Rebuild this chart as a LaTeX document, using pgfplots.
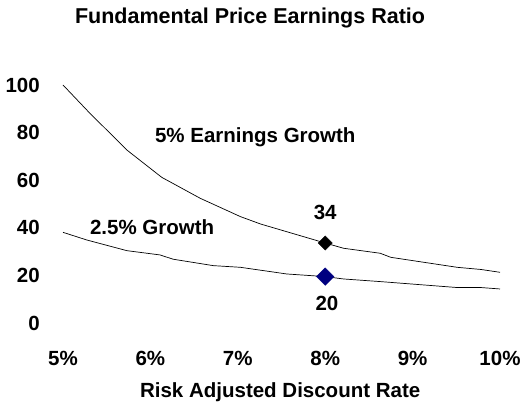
\documentclass[border=0pt]{standalone}
\usepackage{pgfplots}
\pgfplotsset{compat=1.18}
\usepackage{fontspec}
\setmainfont{Liberation Sans}
\usetikzlibrary{calc}
\definecolor{navyblue}{RGB}{0,0,128}
\newcommand{\bfont}{\fontsize{20.5}{24}\selectfont\bfseries}
\begin{document}
\begin{tikzpicture}
\begin{axis}[
  name=ax, at={(0,0)}, anchor=south west,
  scale only axis, width=437pt, height=238pt,
  xmin=5, xmax=10, ymin=0, ymax=100,
  axis line style={draw=none}, clip=false,
  major tick length=0pt, tick style={draw=none},
  xtick={5,6,7,8,9,10},
  xticklabels={5\%,6\%,7\%,8\%,9\%,10\%},
  ytick={0,20,40,60,80,100},
  yticklabels={0,20,40,60,80,100},
  ticklabel style={font=\bfont, inner sep=0pt},
  xticklabel style={anchor=north, yshift=-28pt},
  yticklabel style={anchor=east, xshift=-23pt},
]
\addplot[black, line width=0.7pt] coordinates {
 (5.00,100) (5.29,88.8) (5.73,72.7) (6.13,61.2) (6.57,52.4) (7.03,44.7)
 (7.26,41.6) (8.00,33.6) (8.21,31.4) (8.63,29.3) (8.75,27.6) (9.51,23.4)
 (9.78,22.5) (10.00,21.3)};
\addplot[black, line width=0.7pt] coordinates {
 (5.00,38.1) (5.27,34.9) (5.73,30.4) (6.11,28.6) (6.26,26.8) (6.72,24.1)
 (7.03,23.4) (7.56,20.6) (8.00,19.5) (8.21,18.5) (8.63,17.4) (9.51,14.9)
 (9.78,14.9) (10.00,14.3)};
\addplot[only marks, mark=square*, mark size=5pt, mark options={rotate=45, fill=black, draw=black}] coordinates {(8,33.6)};
\addplot[only marks, mark=square*, mark size=6.2pt, mark options={rotate=45, fill=navyblue, draw=navyblue}] coordinates {(8,19.5)};
\node[font=\bfont] at (axis cs:7.2,78.1) {5\% Earnings Growth};
\node[font=\bfont] at (axis cs:6.02,40.3) {2.5\% Growth};
\node[font=\bfont] at (axis cs:8.0,46.6) {34};
\node[font=\bfont] at (axis cs:8.02,8.4) {20};
\node[font=\fontsize{21.5}{24}\selectfont\bfseries] at (axis description cs:0.428,1.282) {Fundamental Price Earnings Ratio};
\node[font=\bfont] at (axis description cs:0.497,-0.29) {Risk Adjusted Discount Rate};
\end{axis}
\path[use as bounding box] ($(ax.south west)+(-63pt,-83pt)$) rectangle ($(ax.south west)+(469pt,323pt)$);
\end{tikzpicture}
\end{document}
